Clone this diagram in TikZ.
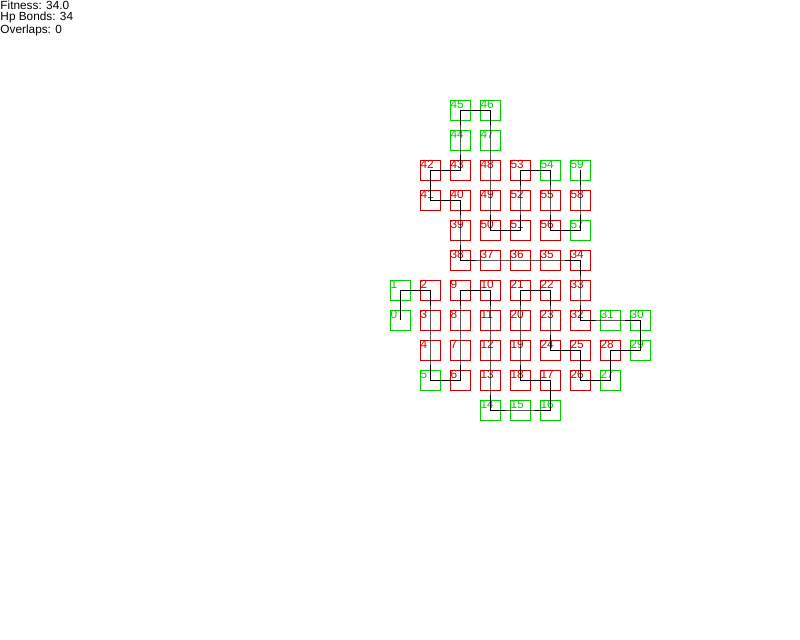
\documentclass[tikz,border=0pt]{standalone}
\usepackage{fontspec}
\setmainfont{Liberation Sans}
\usetikzlibrary{positioning}
\definecolor{boxred}{RGB}{204,0,0}
\definecolor{boxgreen}{RGB}{0,204,0}
\begin{document}
\begin{tikzpicture}[x={(0.75cm, 0cm)}, y={(0cm, -0.75cm)}, line width=0.7pt]
  \tikzstyle{lbl}=[inner sep=0.4pt, anchor=north west, font=\fontsize{8.4}{9}\selectfont]
  \tikzstyle{rbox}=[draw=boxred, minimum size=0.5cm, inner sep=0pt, label={[lbl, text=boxred, label distance=0pt]north west:#1}]
  \tikzstyle{gbox}=[draw=boxgreen, minimum size=0.5cm, inner sep=0pt, label={[lbl, text=boxgreen, label distance=0pt]north west:#1}]

\useasboundingbox (-13.3333, -3.6667) rectangle (13.3333, 17.6667);

\node[inner sep=0pt, anchor=north west, align=left, font=\fontsize{8.4}{7.8}\selectfont] (info) at (-13.3333, -3.64) {Fitness: 34.0\\Hp Bonds: 34\\Overlaps: 0};

\node[gbox=0] (m0) at (0, 7) {};
\node[gbox=1] (m1) at (0, 6) {};
\node[rbox=2] (m2) at (1, 6) {};
\node[rbox=3] (m3) at (1, 7) {};
\node[rbox=4] (m4) at (1, 8) {};
\node[gbox=5] (m5) at (1, 9) {};
\node[rbox=6] (m6) at (2, 9) {};
\node[rbox=7] (m7) at (2, 8) {};
\node[rbox=8] (m8) at (2, 7) {};
\node[rbox=9] (m9) at (2, 6) {};
\node[rbox=10] (m10) at (3, 6) {};
\node[rbox=11] (m11) at (3, 7) {};
\node[rbox=12] (m12) at (3, 8) {};
\node[rbox=13] (m13) at (3, 9) {};
\node[gbox=14] (m14) at (3, 10) {};
\node[gbox=15] (m15) at (4, 10) {};
\node[gbox=16] (m16) at (5, 10) {};
\node[rbox=17] (m17) at (5, 9) {};
\node[rbox=18] (m18) at (4, 9) {};
\node[rbox=19] (m19) at (4, 8) {};
\node[rbox=20] (m20) at (4, 7) {};
\node[rbox=21] (m21) at (4, 6) {};
\node[rbox=22] (m22) at (5, 6) {};
\node[rbox=23] (m23) at (5, 7) {};
\node[rbox=24] (m24) at (5, 8) {};
\node[rbox=25] (m25) at (6, 8) {};
\node[rbox=26] (m26) at (6, 9) {};
\node[gbox=27] (m27) at (7, 9) {};
\node[rbox=28] (m28) at (7, 8) {};
\node[gbox=29] (m29) at (8, 8) {};
\node[gbox=30] (m30) at (8, 7) {};
\node[gbox=31] (m31) at (7, 7) {};
\node[rbox=32] (m32) at (6, 7) {};
\node[rbox=33] (m33) at (6, 6) {};
\node[rbox=34] (m34) at (6, 5) {};
\node[rbox=35] (m35) at (5, 5) {};
\node[rbox=36] (m36) at (4, 5) {};
\node[rbox=37] (m37) at (3, 5) {};
\node[rbox=38] (m38) at (2, 5) {};
\node[rbox=39] (m39) at (2, 4) {};
\node[rbox=40] (m40) at (2, 3) {};
\node[rbox=41] (m41) at (1, 3) {};
\node[rbox=42] (m42) at (1, 2) {};
\node[rbox=43] (m43) at (2, 2) {};
\node[gbox=44] (m44) at (2, 1) {};
\node[gbox=45] (m45) at (2, 0) {};
\node[gbox=46] (m46) at (3, 0) {};
\node[gbox=47] (m47) at (3, 1) {};
\node[rbox=48] (m48) at (3, 2) {};
\node[rbox=49] (m49) at (3, 3) {};
\node[rbox=50] (m50) at (3, 4) {};
\node[rbox=51] (m51) at (4, 4) {};
\node[rbox=52] (m52) at (4, 3) {};
\node[rbox=53] (m53) at (4, 2) {};
\node[gbox=54] (m54) at (5, 2) {};
\node[rbox=55] (m55) at (5, 3) {};
\node[rbox=56] (m56) at (5, 4) {};
\node[gbox=57] (m57) at (6, 4) {};
\node[rbox=58] (m58) at (6, 3) {};
\node[gbox=59] (m59) at (6, 2) {};

  % chain through the residues
  \draw (m0.center) -- (m1.center) -- (m2.center) -- (m3.center) -- (m4.center)
    -- (m5.center) -- (m6.center) -- (m7.center) -- (m8.center) -- (m9.center)
    -- (m10.center) -- (m11.center) -- (m12.center) -- (m13.center) -- (m14.center)
    -- (m15.center) -- (m16.center) -- (m17.center) -- (m18.center) -- (m19.center)
    -- (m20.center) -- (m21.center) -- (m22.center) -- (m23.center) -- (m24.center)
    -- (m25.center) -- (m26.center) -- (m27.center) -- (m28.center) -- (m29.center)
    -- (m30.center) -- (m31.center) -- (m32.center) -- (m33.center) -- (m34.center)
    -- (m35.center) -- (m36.center) -- (m37.center) -- (m38.center) -- (m39.center)
    -- (m40.center) -- (m41.center) -- (m42.center) -- (m43.center) -- (m44.center)
    -- (m45.center) -- (m46.center) -- (m47.center) -- (m48.center) -- (m49.center)
    -- (m50.center) -- (m51.center) -- (m52.center) -- (m53.center) -- (m54.center)
    -- (m55.center) -- (m56.center) -- (m57.center) -- (m58.center) -- (m59.center);
\end{tikzpicture}
\end{document}
